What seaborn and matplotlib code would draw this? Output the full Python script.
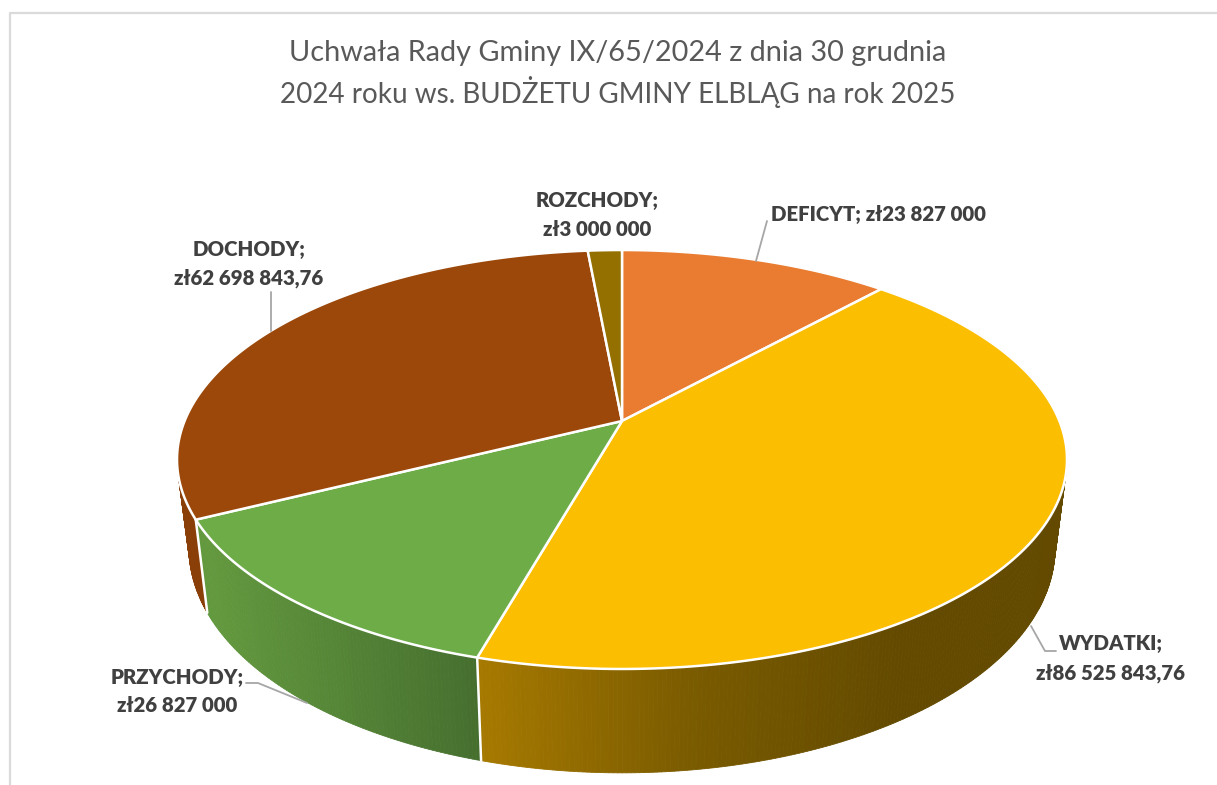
import numpy as np
import matplotlib
matplotlib.use("Agg")
import matplotlib.pyplot as plt
import seaborn as sns

# dane z wykresu (kolejnosc od godziny 12, zgodnie z ruchem wskazowek)
categories = ["DEFICYT", "WYDATKI", "PRZYCHODY", "DOCHODY", "ROZCHODY"]
values = [23827000, 86525843.76, 26827000, 62698843.76, 3000000]
top_colors = ["#E97C30", "#FBBE00", "#6EAC48", "#9B480A", "#947000"]
title_lines = ["Uchwała Rady Gminy IX/65/2024 z dnia 30 grudnia",
               "2024 roku ws. BUDŻETU GMINY ELBLĄG na rok 2025"]

# geometria rzutu (piksele obrazka)
W, H = 1217, 785
CX, CY = 622, 421
AX_X, AX_Y, K = 437.4, 202.4, 0.1838


def rim(theta):
    # perspektywa: theta liczone od gory zgodnie z ruchem wskazowek
    d = 1 + K * np.cos(theta)
    return CX + AX_X * np.sin(theta) / d, CY - AX_Y * np.cos(theta) / d


def lower(x, y):
    # dolna krawedz bocznej scianki
    return CX + (x - CX) * 0.973, 1.072 * y + 55.7


def money(v):
    s = f"{v:,.2f}".replace(",", " ").replace(".", ",")
    return "zł" + (s[:-3] if s.endswith(",00") else s)


sns.set_theme(style="white")
plt.rcParams["font.family"] = ["Lato", "DejaVu Sans"]

fig = plt.figure(figsize=(W / 100, H / 100), dpi=100)
ax = fig.add_axes([0, 0, 1, 1])
ax.set_xlim(0, W)
ax.set_ylim(H, 0)
ax.axis("off")

# ramka wykresu (widoczna tylko z lewej i u gory)
ax.plot([9.5, 9.5, W], [H, 12.5, 12.5], color="#DADADA", lw=1.6, zorder=1)

fracs = np.array(values) / sum(values)
edges = np.concatenate([[0], np.cumsum(fracs)]) * 2 * np.pi

wall_palettes = {
    "WYDATKI": (sns.blend_palette(["#A67900", "#7A5B00", "#634A00"], 256), 480, 900),
    "PRZYCHODY": (sns.blend_palette(["#63993E", "#466F2F"], 256), 204, 476),
}
flat_walls = {"DEFICYT": "#8B4A1C", "DOCHODY": "#8A3F08", "ROZCHODY": "#634A00"}

# scianki boczne
for name, a, b in zip(categories, edges[:-1], edges[1:]):
    th = np.linspace(a, b, max(int((b - a) * 120), 4))
    xs, ys = rim(th)
    xl, yl = lower(xs, ys)
    for i in range(len(th) - 1):
        if name in wall_palettes:
            pal, x0, x1 = wall_palettes[name]
            t = np.clip(((xs[i] + xs[i + 1]) / 2 - x0) / (x1 - x0), 0, 1)
            col = pal[int(t * 255)]
        else:
            col = flat_walls[name]
        ax.fill([xs[i], xs[i + 1], xl[i + 1], xl[i]], [ys[i], ys[i + 1], yl[i + 1], yl[i]],
                color=col, lw=0.6, zorder=2)

# linie miedzy sciankami
for e in [edges[2], edges[3]]:
    x, y = rim(e)
    xl, yl = lower(x, y)
    ax.plot([x, xl], [y, yl], color="white", lw=1.8, zorder=3, solid_capstyle="round")

# gorna powierzchnia
for name, col, a, b in zip(categories, top_colors, edges[:-1], edges[1:]):
    th = np.linspace(a, b, 200)
    xs, ys = rim(th)
    ax.fill(np.r_[CX, xs], np.r_[CY, ys], facecolor=col, edgecolor="white", lw=1.8,
            joinstyle="round", zorder=4)

# linie odniesienia
leaders = [([767, 756], [221, 261]),
           ([1056, 1045, 1031], [651, 651, 626]),
           ([246, 258, 307], [683, 683, 703]),
           ([271, 271], [292, 331])]
for lx, ly in leaders:
    sns.lineplot(x=lx, y=ly, ax=ax, sort=False, estimator=None, color="#A6A6A6",
                 lw=1.3, zorder=5, legend=False)
ax.set_xlim(0, W)
ax.set_ylim(H, 0)
ax.axis("off")

# etykiety
LABEL = dict(fontsize=14.7, fontweight=800, color="#404040", va="center", zorder=6)
lab = dict(zip(categories, values))
ax.text(771, 214.5, f"DEFICYT; {money(lab['DEFICYT'])}", ha="left", **LABEL)
for name, x, y1, y2 in [("WYDATKI", 1111, 643.5, 673.5), ("PRZYCHODY", 177, 677.5, 705.5),
                        ("DOCHODY", 249, 249.5, 278.5), ("ROZCHODY", 597, 200.5, 229.5)]:
    ax.text(x, y1, f"{name};", ha="center", **LABEL)
    ax.text(x, y2, money(lab[name]), ha="center", **LABEL)

for line, y, size in zip(title_lines, [53, 92], [20.8, 20.1]):
    ax.text(618, y, line, ha="center", va="center", fontsize=size, color="#595959", zorder=6)

fig.savefig("out.png", dpi=100)
